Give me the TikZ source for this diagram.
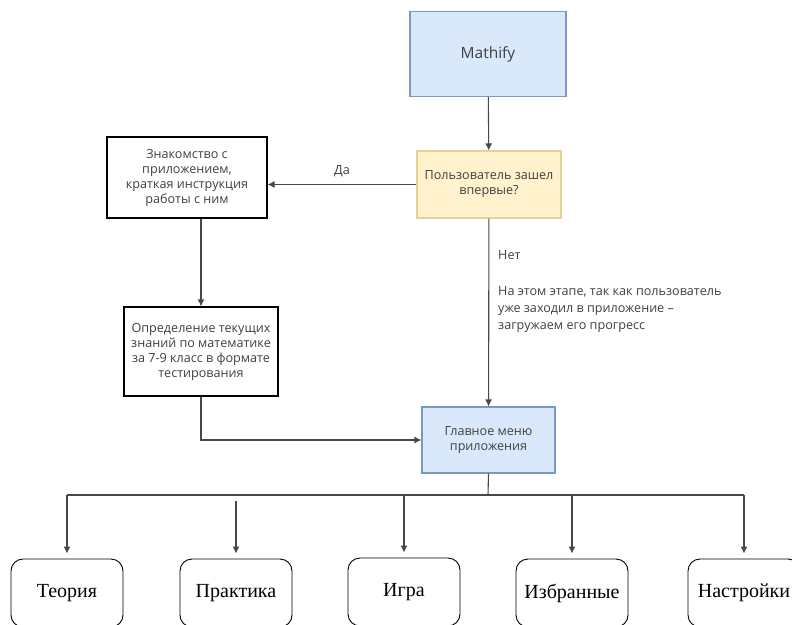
\documentclass[tikz,border=0pt]{standalone}
\usepackage{fontspec}
\setmainfont{Open Sans}
\newfontfamily\menufont{Liberation Serif}
\usetikzlibrary{positioning,arrows.meta}
\definecolor{startfill}{RGB}{218,232,252}
\definecolor{startdraw}{RGB}{125,152,190}
\definecolor{askfill}{RGB}{255,242,204}
\definecolor{askdraw}{RGB}{228,210,150}
\definecolor{textgray}{RGB}{64,64,64}
\definecolor{linegray}{RGB}{72,72,72}
\tikzstyle{stage}=[rectangle, draw, align=center, inner sep=2pt, line width=1.1pt, text=textgray, font=\fontsize{12.6}{15}\selectfont]
\tikzstyle{start}=[fill=startfill, draw=startdraw]
\tikzstyle{ask}=[fill=askfill, draw=askdraw]
\tikzstyle{note}=[align=left, inner sep=0pt, text=textgray, font=\fontsize{12.6}{17}\selectfont]
\tikzstyle{menuitem}=[rectangle, draw, rounded corners=12pt, minimum width=112pt, minimum height=68pt, line width=0.9pt, font=\menufont\fontsize{20}{22}\selectfont]
\tikzstyle{flow}=[-{Latex[length=7pt,width=7pt]}, line width=1.1pt, color=linegray]
\tikzstyle{bus}=[line width=1.1pt, color=linegray]

\begin{document}
\begin{tikzpicture}[x=1pt,y=-1pt]
  \clip (0,0) rectangle (792,624);
  \fill[white] (0,0) rectangle (792,624);

  %% Upper part
  \draw (488,54) node[stage,start,minimum width=156pt,minimum height=85pt,font=\fontsize{15.5}{17}\selectfont] (App) {Mathify};
  \draw (489,184.5) node[stage,ask,minimum width=144pt,minimum height=67pt] (First) {Пользователь зашел\\впервые?};
  \draw (187,177.5) node[stage,minimum width=160pt,minimum height=81pt,draw=black] (Intro) {Знакомство с\\приложением,\\краткая инструкция\\работы с ним};
  \draw (201,351.5) node[stage,minimum width=154pt,minimum height=89pt,draw=black] (Test) {Определение текущих\\знаний по математике\\за 7-9 класс в формате\\тестирования};
  \draw (488.5,440) node[stage,start,minimum width=133pt,minimum height=66pt] (Menu) {Главное меню\\приложения};

  \draw (498,255) node[note,anchor=west] (No) {Нет};
  \draw (498,310) node[note,anchor=west] (Why) {На этом этапе, так как пользователь\\уже заходил в приложение –\\загружаем его прогресс};

  \draw[flow] (App) -- (First);
  \draw[flow] (First.west) -- (First.west -| Intro.east) node[midway,above=4pt,text=textgray,font=\fontsize{12.6}{14}\selectfont] {Да};
  \draw[flow] (Intro.south -| Test.north) -- (Test.north);
  \draw[flow] (Test.south) |- (Menu.west);
  \draw[flow] (First) -- (Menu);

  %% Menu items
  \draw (67,593) node[menuitem] (Theory) {Теория};
  \draw (236,593) node[menuitem] (Practice) {Практика};
  \draw (404,592) node[menuitem] (Game) {Игра};
  \draw (572,593) node[menuitem] (Favs) {Избранные};
  \draw (744,593) node[menuitem] (Settings) {Настройки};

  \coordinate (Bus) at (488,495);
  \draw[bus] (Menu.south) -- (Bus);
  \draw[bus] (Theory |- Bus) -- (Settings |- Bus);
  \draw[flow,shorten >=5pt] (Theory |- Bus) -- (Theory.north);
  \draw[flow,shorten >=5pt,shorten <=6pt] (Practice |- Bus) -- (Practice.north);
  \draw[flow,shorten >=5pt] (Game |- Bus) -- (Game.north);
  \draw[flow,shorten >=5pt] (Favs |- Bus) -- (Favs.north);
  \draw[flow,shorten >=5pt] (Settings |- Bus) -- (Settings.north);
\end{tikzpicture}
\end{document}
